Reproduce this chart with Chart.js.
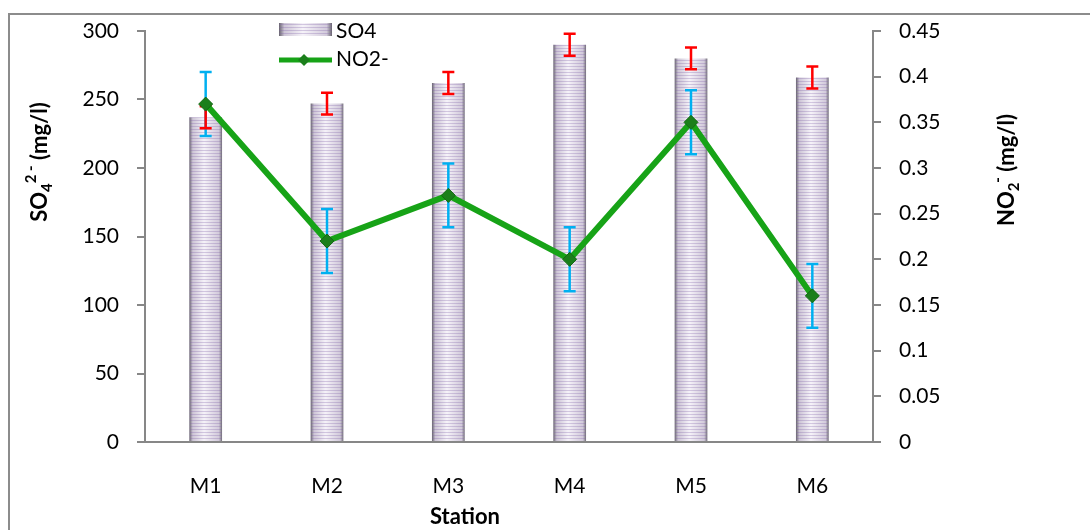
<!DOCTYPE html>
<html>
<head>
<meta charset="utf-8">
<script src="https://cdn.jsdelivr.net/npm/chart.js@4.4.0/dist/chart.umd.min.js"></script>
<style>
  body { margin: 0; background: #fff; }
  canvas { display: block; }
</style>
</head>
<body>
<canvas id="myChart" width="1090" height="530"></canvas>
<script>
var stations  = ['M1', 'M2', 'M3', 'M4', 'M5', 'M6'];
var so4Values = [237, 247, 262, 290, 280, 266];
var so4Errors = [8, 8, 8, 8, 8, 8];
var no2Values = [0.37, 0.22, 0.27, 0.20, 0.35, 0.16];
var no2Errors = [0.035, 0.035, 0.035, 0.035, 0.035, 0.035];

var axisGray = '#878787';
var font = 'Lato';

// striped bar fill, shaded at the sides like the original
function barPattern(ctx, left, w) {
  var c = document.createElement('canvas');
  c.width = Math.max(2, Math.round(w));
  c.height = 3;
  var p = c.getContext('2d');
  var g = p.createLinearGradient(0, 0, c.width, 0);
  g.addColorStop(0, '#67646d');
  g.addColorStop(0.1, '#cdc5d6');
  g.addColorStop(0.45, '#f6f3f9');
  g.addColorStop(0.9, '#d2cadb');
  g.addColorStop(1, '#67646d');
  p.fillStyle = g;
  p.fillRect(0, 0, c.width, 3);
  p.fillStyle = 'rgba(130, 100, 170, 0.3)';
  p.fillRect(0, 0, c.width, 1);
  var pat = ctx.createPattern(c, 'repeat');
  pat.setTransform(new DOMMatrix().translate(left, 0));
  return pat;
}

function barFill(context) {
  var chart = context.chart;
  var xs = chart.scales && chart.scales.x;
  if (context.type !== 'data' || !xs || !xs.width) return '#ddd5e6';
  var w = xs.width / stations.length * 0.27;
  var left = xs.getPixelForValue(context.dataIndex) - w / 2;
  return barPattern(chart.ctx, left, w);
}

function drawErrors(chart, scaleId, values, errors, color) {
  var ctx = chart.ctx, xs = chart.scales.x, ys = chart.scales[scaleId];
  ctx.save();
  ctx.strokeStyle = color;
  ctx.lineWidth = 2.5;
  values.forEach(function (v, i) {
    var x = xs.getPixelForValue(i);
    var top = ys.getPixelForValue(v + errors[i]);
    var bot = ys.getPixelForValue(v - errors[i]);
    ctx.beginPath();
    ctx.moveTo(x, top); ctx.lineTo(x, bot);
    ctx.moveTo(x - 6, top); ctx.lineTo(x + 6, top);
    ctx.moveTo(x - 6, bot); ctx.lineTo(x + 6, bot);
    ctx.stroke();
  });
  ctx.restore();
}

// draws text made of pieces: [text, size, baseline shift]
function drawPieces(ctx, pieces, cx, cy, rotate) {
  ctx.save();
  ctx.translate(cx, cy);
  if (rotate) ctx.rotate(-Math.PI / 2);
  ctx.fillStyle = '#000';
  ctx.textBaseline = 'middle';
  var total = 0;
  pieces.forEach(function (p) {
    ctx.font = 'bold ' + p[1] + 'px ' + font;
    total += ctx.measureText(p[0]).width;
  });
  var x = -total / 2;
  pieces.forEach(function (p) {
    ctx.font = 'bold ' + p[1] + 'px ' + font;
    ctx.fillText(p[0], x, p[2]);
    x += ctx.measureText(p[0]).width;
  });
  ctx.restore();
}

var decorations = {
  id: 'decorations',
  beforeDraw: function (chart) {
    var ctx = chart.ctx;
    ctx.save();
    ctx.strokeStyle = '#8c8c8c';
    ctx.lineWidth = 2;
    ctx.strokeRect(9, 14, 1200, 700);
    ctx.restore();
  },
  beforeDatasetDraw: function (chart, args) {
    if (args.index !== 1) return;
    drawErrors(chart, 'yNO2', no2Values, no2Errors, '#00b0f0');
    drawErrors(chart, 'y', so4Values, so4Errors, '#ff0000');
  },
  afterDraw: function (chart) {
    var ctx = chart.ctx;
    // axis titles
    drawPieces(ctx, [['SO', 22, 0], ['4', 15, 7], ['2', 15, -9], [' -', 15, -9], [' (mg/l)', 22, 0]], 40, 162, true);
    drawPieces(ctx, [['NO', 22, 0], ['2', 15, 7], ['-', 15, -9], [' (mg/l)', 22, 0]], 1007, 170, true);
    drawPieces(ctx, [['Station', 22, 0]], 465, 517, false);

    // legend
    ctx.save();
    ctx.fillStyle = barPattern(ctx, 279, 53);
    ctx.fillRect(279, 23, 53, 13);
    ctx.strokeStyle = '#17a317';
    ctx.lineWidth = 5;
    ctx.beginPath();
    ctx.moveTo(279, 60); ctx.lineTo(332, 60);
    ctx.stroke();
    ctx.fillStyle = '#1b7f1b';
    ctx.beginPath();
    ctx.moveTo(304, 54); ctx.lineTo(310, 60); ctx.lineTo(304, 66); ctx.lineTo(298, 60);
    ctx.closePath();
    ctx.fill();
    ctx.fillStyle = '#000';
    ctx.font = '21px ' + font;
    ctx.textBaseline = 'middle';
    ctx.fillText(chart.data.datasets[0].label, 336, 31);
    ctx.fillText(chart.data.datasets[1].label, 336, 59);
    ctx.restore();
  }
};

var ctx = document.getElementById('myChart');

var data = {
  labels: stations,
  datasets: [
    {
      type: 'bar',
      label: 'SO4',
      data: so4Values,
      yAxisID: 'y',
      backgroundColor: barFill,
      borderWidth: 0,
      categoryPercentage: 1,
      barPercentage: 0.27,
      order: 2
    },
    {
      type: 'line',
      label: 'NO2-',
      data: no2Values,
      yAxisID: 'yNO2',
      borderColor: '#17a317',
      borderWidth: 6,
      lineTension: 0,
      pointStyle: 'rectRot',
      pointRadius: 7,
      pointBackgroundColor: '#1b7f1b',
      pointBorderColor: '#146914',
      pointBorderWidth: 1,
      order: 1
    }
  ]
};

var options = {
  responsive: false,
  animation: false,
  layout: { padding: { top: 31 } },
  plugins: {
    legend: { display: false },
    tooltip: { enabled: false }
  },
  scales: {
    x: {
      grid: { display: false },
      border: { display: true, color: axisGray, width: 2 },
      ticks: { color: '#000', font: { family: font, size: 21 }, padding: 24 },
      afterFit: function (scale) { scale.height = 88; }
    },
    y: {
      position: 'left',
      min: 0, max: 300,
      grid: { drawOnChartArea: false, color: axisGray, lineWidth: 2, tickLength: 8 },
      border: { color: axisGray, width: 2 },
      ticks: { stepSize: 50, color: '#000', font: { family: font, size: 21 }, padding: 18 },
      afterFit: function (scale) { scale.width = 145; }
    },
    yNO2: {
      position: 'right',
      min: 0, max: 0.45,
      grid: { drawOnChartArea: false, color: axisGray, lineWidth: 2, tickLength: 8 },
      border: { color: axisGray, width: 2 },
      ticks: {
        stepSize: 0.05, color: '#000', font: { family: font, size: 21 }, padding: 18,
        callback: function (v) { return String(Math.round(v * 100) / 100); }
      },
      afterFit: function (scale) { scale.width = 217; }
    }
  }
};

window.myChart = new Chart(ctx, {
  type: 'bar',
  data: data,
  options: options,
  plugins: [decorations]
});
</script>
</body>
</html>
